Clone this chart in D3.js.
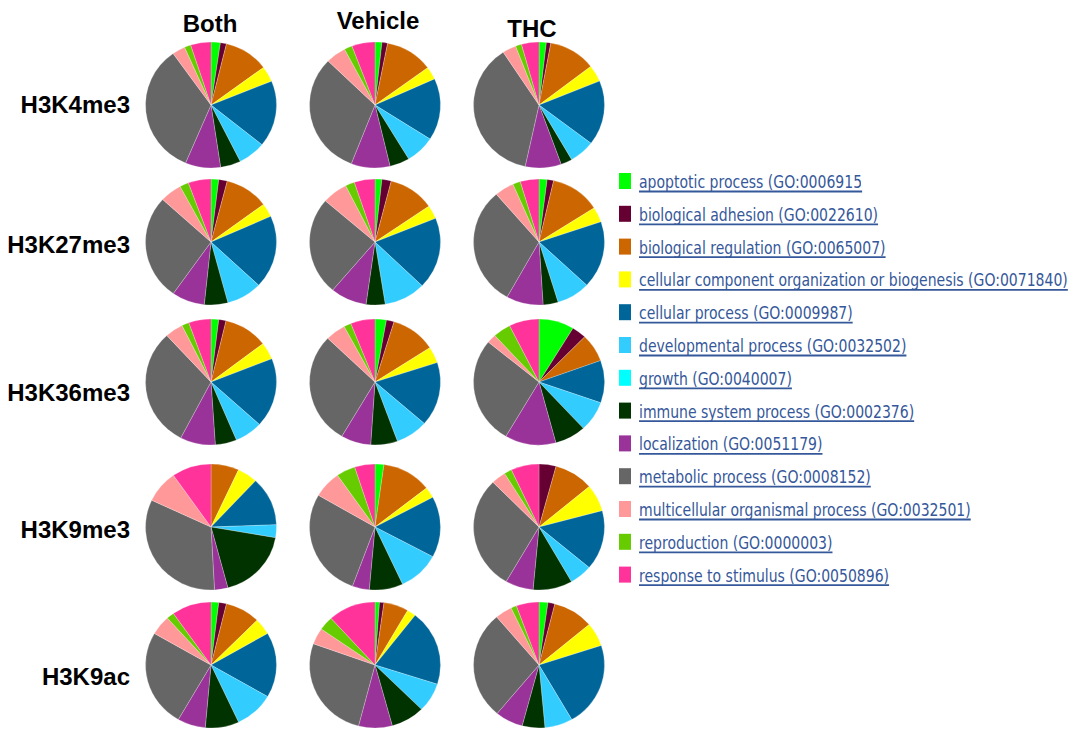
<!DOCTYPE html>
<html>
<head>
<meta charset="utf-8">
<script src="https://cdn.jsdelivr.net/npm/d3@7"></script>
<style>
  html, body { margin: 0; padding: 0; background: #fff; }
  svg { display: block; }
</style>
</head>
<body>
<svg id="chart" width="1072" height="732"></svg>
<script>
// GO biological process categories (slice order, clockwise from 12 o'clock)
const categories = [
  "apoptotic process (GO:0006915)",
  "biological adhesion (GO:0022610)",
  "biological regulation (GO:0065007)",
  "cellular component organization or biogenesis (GO:0071840)",
  "cellular process (GO:0009987)",
  "developmental process (GO:0032502)",
  "growth (GO:0040007)",
  "immune system process (GO:0002376)",
  "localization (GO:0051179)",
  "metabolic process (GO:0008152)",
  "multicellular organismal process (GO:0032501)",
  "reproduction (GO:0000003)",
  "response to stimulus (GO:0050896)"
];
const colors = [
  "#00ff00", "#660033", "#cc6600", "#ffff00", "#006699", "#33ccff", "#00ffff",
  "#003300", "#993399", "#666666", "#ff9999", "#66cc00", "#ff3399"
];

const columns = ["Both", "Vehicle", "THC"];
const marks = ["H3K4me3", "H3K27me3", "H3K36me3", "H3K9me3", "H3K9ac"];

// Percent of genes per category, one array per histone mark / group
const H3K4me3_Both    = [2.3, 1.5, 11.0, 4.0, 17.0, 6.8, 0, 5.0, 8.7, 33.8, 3.2, 1.6, 5.0];
const H3K4me3_Vehicle = [1.7, 1.4, 11.8, 3.3, 15.9, 7.3, 0, 4.9, 9.6, 31.4, 5.0, 2.0, 5.7];
const H3K4me3_THC     = [1.8, 1.1, 11.6, 4.3, 16.6, 6.3, 0, 2.8, 8.9, 37.4, 3.4, 1.5, 4.3];

const H3K27me3_Both    = [1.9, 2.1, 10.8, 3.5, 18.7, 8.8, 0, 5.8, 8.1, 27.0, 5.4, 2.2, 5.6];
const H3K27me3_Vehicle = [1.7, 2.3, 11.4, 3.5, 18.4, 10.3, 0, 4.7, 9.0, 25.2, 6.3, 2.3, 5.1];
const H3K27me3_THC     = [2.0, 1.6, 12.3, 3.9, 17.2, 8.3, 0, 3.7, 9.1, 30.6, 4.8, 1.9, 4.6];

const H3K36me3_Both    = [1.9, 1.8, 10.9, 4.4, 17.8, 6.9, 0, 5.3, 8.7, 30.6, 4.5, 1.8, 5.5];
const H3K36me3_Vehicle = [2.8, 1.9, 11.1, 4.2, 16.4, 8.0, 0, 6.6, 7.4, 28.7, 5.0, 1.8, 6.0];
const H3K36me3_THC     = [8.7, 3.6, 7.2, 0, 10.9, 7.8, 0, 7.7, 12.6, 27.5, 2.3, 4.4, 7.4];

const H3K9me3_Both    = [0, 0, 6.9, 5.0, 12.5, 3.3, 0, 18.1, 3.3, 32.8, 8.3, 0, 9.7];
const H3K9me3_Vehicle = [2.2, 0, 12.2, 2.8, 15.6, 10.3, 0, 8.3, 4.2, 27.8, 6.9, 4.7, 5.0];
const H3K9me3_THC     = [0, 4.2, 9.7, 6.9, 15.3, 5.6, 0, 9.7, 6.9, 29.2, 3.6, 1.9, 6.9];

const H3K9ac_Both    = [1.9, 1.9, 8.6, 4.2, 16.7, 9.7, 0, 8.3, 6.9, 25.0, 5.0, 1.9, 9.7];
const H3K9ac_Vehicle = [1.1, 1.1, 6.1, 2.2, 19.4, 7.5, 0, 8.3, 8.3, 26.4, 4.2, 3.6, 11.7];
const H3K9ac_THC     = [2.2, 1.7, 10.0, 6.1, 21.7, 6.9, 0, 5.6, 6.9, 27.8, 4.2, 1.4, 5.6];

const grid = [
  [H3K4me3_Both, H3K4me3_Vehicle, H3K4me3_THC],
  [H3K27me3_Both, H3K27me3_Vehicle, H3K27me3_THC],
  [H3K36me3_Both, H3K36me3_Vehicle, H3K36me3_THC],
  [H3K9me3_Both, H3K9me3_Vehicle, H3K9me3_THC],
  [H3K9ac_Both, H3K9ac_Vehicle, H3K9ac_THC]
];

const svg = d3.select("#chart");
svg.append("rect").attr("width", 1072).attr("height", 732).attr("fill", "#fff");

// layout
const colX = [211, 375, 539];
const rowY = [105, 242, 382, 527, 665];
const rx = 65.5, ry = 63;

const color = d3.scaleOrdinal().domain(d3.range(categories.length)).range(colors);
const pie = d3.pie().sort(null).value(d => d);
const arc = d3.arc().innerRadius(0).outerRadius(rx);

grid.forEach((row, ri) => {
  row.forEach((vals, ci) => {
    const g = svg.append("g")
      .attr("transform", `translate(${colX[ci]},${rowY[ri]}) scale(1,${ry / rx})`);
    g.selectAll("path")
      .data(pie(vals).map((d, i) => ({ ...d, idx: i })).filter(d => d.value > 0))
      .join("path")
      .attr("d", arc)
      .attr("fill", d => color(d.idx))
      .attr("stroke", "#fff")
      .attr("stroke-width", 0.4)
      .attr("stroke-opacity", 0.6);
  });
});

// column headers
const headFont = "'Liberation Sans', Arial, Helvetica, sans-serif";
const headPos = [[210, 32], [378, 29], [532, 37]];
svg.selectAll("text.col")
  .data(columns)
  .join("text")
  .attr("class", "col")
  .attr("x", (d, i) => headPos[i][0])
  .attr("y", (d, i) => headPos[i][1])
  .attr("text-anchor", "middle")
  .attr("font-family", headFont)
  .attr("font-weight", "bold")
  .attr("font-size", 24)
  .attr("fill", "#000")
  .text(d => d);

// row labels
const rowBase = [112.5, 252.5, 400.5, 537.5, 684.5];
svg.selectAll("text.row")
  .data(marks)
  .join("text")
  .attr("class", "row")
  .attr("x", 130)
  .attr("y", (d, i) => rowBase[i])
  .attr("text-anchor", "end")
  .attr("font-family", headFont)
  .attr("font-weight", "bold")
  .attr("font-size", 24)
  .attr("fill", "#000")
  .text(d => d);

// legend
const legX = 619, legTextX = 639, legY0 = 181, legStep = 32.8;
const linkColor = "#35589a";
const legFont = "'DejaVu Sans', Verdana, sans-serif";
const legSize = 18.5;
const legend = svg.append("g");

// condensed link text: measure the longest label and fit it to the legend width
const probe = legend.append("text")
  .attr("font-family", legFont)
  .attr("font-size", legSize)
  .text(categories[3]);
const sx = 429 / probe.node().getComputedTextLength();
probe.remove();

const clip = svg.append("defs").append("clipPath").attr("id", "clip0");

categories.forEach((label, i) => {
  const y = legY0 + i * legStep;
  legend.append("rect")
    .attr("x", legX).attr("y", y - 8)
    .attr("width", 12).attr("height", 16)
    .attr("fill", colors[i]);

  const tg = legend.append("g")
    .attr("transform", `translate(${legTextX},${y + 7}) scale(${sx},1)`);
  const t = tg.append("text")
    .attr("x", 0).attr("y", 0)
    .attr("font-family", legFont)
    .attr("font-size", legSize)
    .attr("fill", linkColor)
    .text(label);

  let w = t.node().getComputedTextLength();
  if (i === 0) {
    // first entry is cut just after its last digit
    const sub = t.node().getSubStringLength(0, label.length - 1);
    clip.append("rect").attr("x", -2).attr("y", -22).attr("width", sub + 2).attr("height", 15);
    clip.append("rect").attr("x", -2).attr("y", -7).attr("width", sub + 0.5).attr("height", 14);
    tg.attr("clip-path", "url(#clip0)");
    w = sub;
  }
  legend.append("line")
    .attr("x1", legTextX).attr("x2", legTextX + w * sx)
    .attr("y1", y + 10.5).attr("y2", y + 10.5)
    .attr("stroke", linkColor)
    .attr("stroke-width", 1.8);
});
</script>
</body>
</html>
